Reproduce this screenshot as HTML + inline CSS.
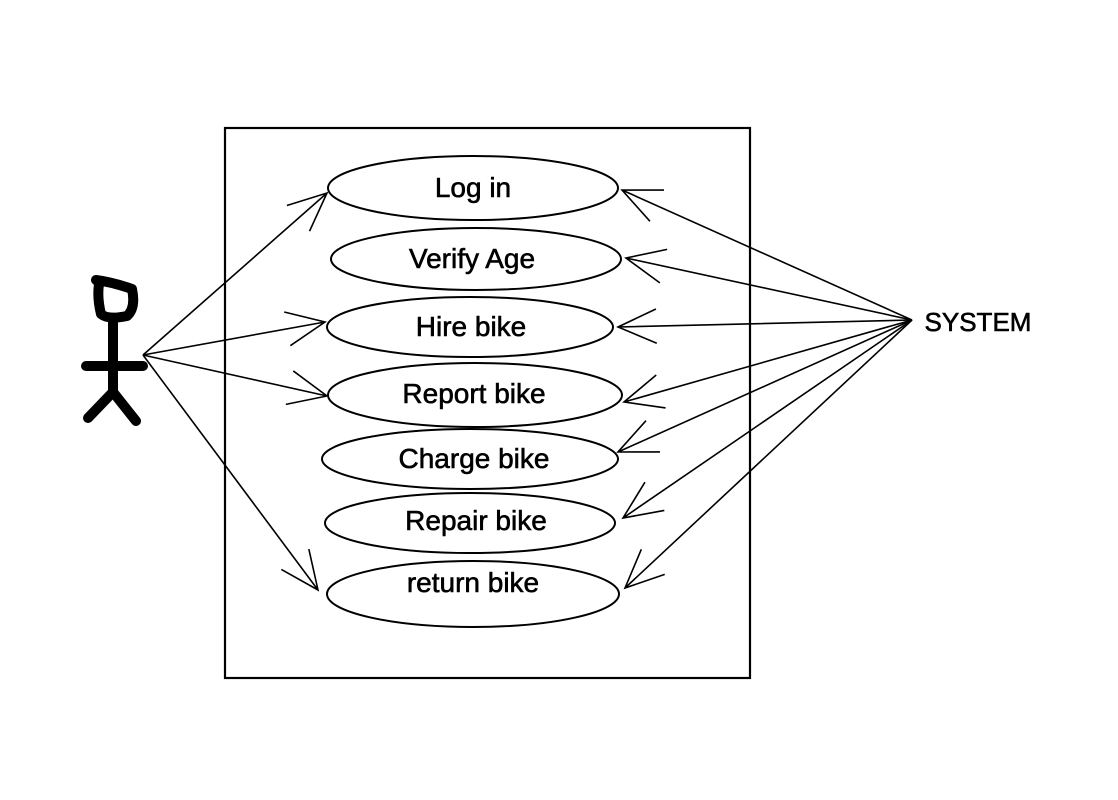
<!DOCTYPE html>
<html><head><style>body{margin:0;background:#fff}svg{display:block}</style></head><body>
<svg width="1118" height="800" viewBox="0 0 1118 800" xmlns="http://www.w3.org/2000/svg">
<rect width="1118" height="800" fill="#fff"/>
<g fill="none" stroke="#000" stroke-width="2">
<rect x="225" y="128" width="525" height="550" stroke-width="2.2"/>
<ellipse cx="473" cy="188" rx="145" ry="32"/>
<ellipse cx="476" cy="259" rx="145" ry="31"/>
<ellipse cx="470" cy="327" rx="143" ry="30"/>
<ellipse cx="475" cy="395" rx="147" ry="32"/>
<ellipse cx="470" cy="459" rx="148" ry="30"/>
<ellipse cx="470" cy="523" rx="145" ry="30"/>
<ellipse cx="473" cy="594" rx="146" ry="33"/>
</g>
<g stroke="#000" stroke-width="1.6" fill="none" id="arrows"></g>
<g stroke="#000" stroke-width="10" stroke-linecap="round" stroke-linejoin="round" fill="none">
<path d="M96 280 Q112 282 132 289 Q136 308 127 316 Q108 320 101 314 Q97 298 99 284"/>
<line x1="113" y1="318" x2="113" y2="392"/>
<line x1="86" y1="366" x2="143" y2="366"/>
<line x1="113" y1="392" x2="88" y2="418"/>
<line x1="113" y1="392" x2="136" y2="421"/>
</g>
<g font-family="Liberation Sans, sans-serif" font-size="28" text-anchor="middle" fill="#000" stroke="#000" stroke-width="0.6">
<text x="473" y="197">Log in</text>
<text x="472" y="268">Verify Age</text>
<text x="471" y="336">Hire bike</text>
<text x="474" y="403">Report bike</text>
<text x="474" y="468">Charge bike</text>
<text x="476" y="530">Repair bike</text>
<text x="473" y="592">return bike</text>
<text x="978" y="331" font-size="26">SYSTEM</text>
</g>
<script>
var g=document.getElementById('arrows');
function arr(x1,y1,x2,y2){
 var s='M'+x1+' '+y1+'L'+x2+' '+y2;
 var a=Math.atan2(y2-y1,x2-x1),L=42,w=0.42;
 s+='M'+(x2-L*Math.cos(a-w))+' '+(y2-L*Math.sin(a-w))+'L'+x2+' '+y2+'L'+(x2-L*Math.cos(a+w))+' '+(y2-L*Math.sin(a+w));
 var p=document.createElementNS('http://www.w3.org/2000/svg','path');p.setAttribute('d',s);g.appendChild(p);
}
var A=[143,355];
[[327,193],[325,322],[327,396],[318,590]].forEach(function(t){arr(A[0],A[1],t[0],t[1]);});
var S=[912,320];
[[622,190],[626,258],[618,327],[624,402],[618,452],[623,518],[625,588]].forEach(function(t){arr(S[0],S[1],t[0],t[1]);});
</script>
</svg>
</body></html>
